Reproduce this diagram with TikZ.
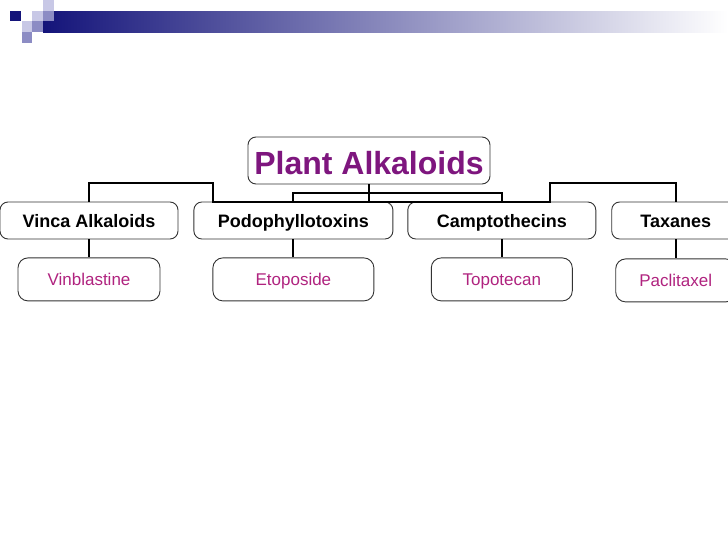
\documentclass[tikz,border=0pt]{standalone}
\usepackage{fontspec}
\setmainfont{Liberation Sans}
\usetikzlibrary{positioning}
\definecolor{navybar}{HTML}{14147A}
\definecolor{lavlight}{HTML}{C8C8E6}
\definecolor{lavmid}{HTML}{8C8CC4}
\definecolor{rootpurple}{HTML}{7E167E}
\definecolor{drugpink}{HTML}{B0237F}
\tikzset{
  rootbox/.style={draw=black!80,line width=0.9pt,rounded corners=8pt,minimum width=242pt,minimum height=47pt,inner sep=0pt,text height=27pt,text depth=0pt,font=\fontsize{32}{36}\selectfont\bfseries,text=rootpurple},
  classbox/.style={draw=black!80,line width=0.9pt,rounded corners=8pt,minimum height=37pt,inner sep=0pt,text height=13pt,text depth=0pt,font=\fontsize{18}{21}\selectfont\bfseries},
  drugbox/.style={draw=black!80,line width=0.9pt,rounded corners=10pt,minimum height=43pt,inner sep=0pt,text height=12.2pt,text depth=0pt,font=\fontsize{17}{20}\selectfont,text=drugpink},
  link/.style={line width=2pt}
}
\begin{document}
\begin{tikzpicture}[x=1pt,y=-1pt,node distance=18pt and 15pt]
\useasboundingbox[fill=white] (0,0) rectangle (728,546);
% header bar
\shade[left color=navybar,right color=white] (43,11) rectangle (728,32);
\fill[navybar] (10,11) rectangle (21,21);
\fill[lavlight] (43,0) rectangle (54,11);
\fill[lavlight] (32,11) rectangle (43,21);
\fill[lavmid] (43,11) rectangle (54,21);
\fill[lavlight] (22,21) rectangle (32,32);
\fill[lavmid] (32,21) rectangle (43,32);
\fill[lavmid] (22,32) rectangle (32,43);
% chart
\node[rootbox] (plant) at (369,160.5) {Plant Alkaloids};
\node[classbox,minimum width=178pt] (vinca) at (89,220.5) {Vinca Alkaloids};
\node[classbox,minimum width=199pt,right=15pt of vinca] (podo) {Podophyllotoxins};
\node[classbox,minimum width=188pt,right=14pt of podo] (campto) {Camptothecins};
\node[classbox,minimum width=128pt,right=15pt of campto] (taxanes) {Taxanes};
\node[drugbox,minimum width=142pt,below=of vinca] (vinb) {Vinblastine};
\node[drugbox,minimum width=161pt,below=of podo] (etop) {Etoposide};
\node[drugbox,minimum width=141pt,below=of campto] (topo) {Topotecan};
\node[drugbox,minimum width=120pt,below=19pt of taxanes] (pacl) {Paclitaxel};
\coordinate (hub) at (369,193);
\coordinate (jl) at (213,202);
\coordinate (jr) at (550,202);
\draw[link] (plant.south) -- (plant.south |- podo.north);
\draw[link] (podo.north) |- (hub) -| (campto.north);
\draw[link] (vinca.north) |- ([yshift=19pt]jl) -- (jl) -- (jr) -- ([yshift=19pt]jr) -| (taxanes.north);
\draw[link] (vinca.south) -- (vinb.north);
\draw[link] (podo.south) -- (etop.north);
\draw[link] (campto.south) -- (topo.north);
\draw[link] (taxanes.south) -- (pacl.north);
\end{tikzpicture}
\end{document}
